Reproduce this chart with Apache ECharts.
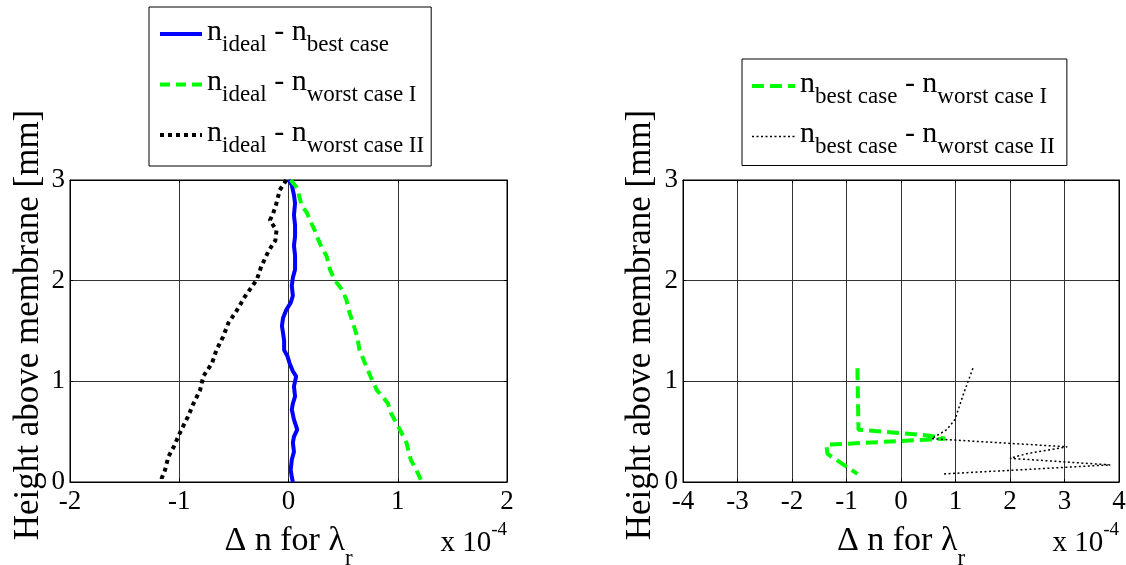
<!DOCTYPE html>
<html>
<head>
<meta charset="utf-8">
<script src="https://cdn.jsdelivr.net/npm/echarts@6/dist/echarts.min.js"></script>
<style>
html,body{margin:0;padding:0;background:#fff;}
#chart{width:1126px;height:565px;}
</style>
</head>
<body>
<div id="chart"></div>
<script>
// ---- data (Δn in units of 1e-4, height in mm) ----
const leftXTicks = ['-2', '-1', '0', '1', '2'];
const rightXTicks = ['-4', '-3', '-2', '-1', '0', '1', '2', '3', '4'];
const yTicks = ['0', '1', '2', '3'];

const idealBestH = [3.00, 2.95, 2.85, 2.77, 2.65, 2.55, 2.44, 2.35, 2.25, 2.11, 2.03, 1.95, 1.85, 1.78, 1.71, 1.63, 1.55, 1.48, 1.40, 1.31, 1.25, 1.18, 1.10, 1.05, 0.95, 0.85, 0.78, 0.72, 0.62, 0.52, 0.45, 0.39, 0.30, 0.22, 0.12, 0.05, 0.00];
const idealBestD = [0.00, 0.03, 0.05, 0.06, 0.05, 0.06, 0.06, 0.05, 0.06, 0.06, 0.04, 0.03, 0.04, 0.02, -0.02, -0.05, -0.06, -0.05, -0.04, -0.04, -0.01, 0.01, 0.04, 0.07, 0.05, 0.06, 0.04, 0.03, 0.05, 0.08, 0.05, 0.04, 0.05, 0.03, 0.02, 0.03, 0.04];

const idealWorst1H = [3.00, 2.92, 2.83, 2.75, 2.67, 2.57, 2.50, 2.44, 2.34, 2.24, 2.11, 2.01, 1.91, 1.81, 1.71, 1.58, 1.44, 1.31, 1.18, 1.05, 0.91, 0.85, 0.78, 0.68, 0.52, 0.39, 0.30, 0.22, 0.12, 0.00];
const idealWorst1D = [0.02, 0.08, 0.10, 0.12, 0.17, 0.21, 0.24, 0.26, 0.30, 0.35, 0.38, 0.42, 0.49, 0.53, 0.55, 0.59, 0.63, 0.65, 0.70, 0.75, 0.81, 0.86, 0.91, 0.94, 1.02, 1.08, 1.10, 1.12, 1.17, 1.22];

const idealWorst2H = [3.00, 2.90, 2.77, 2.67, 2.60, 2.50, 2.40, 2.30, 2.14, 2.01, 1.84, 1.71, 1.58, 1.44, 1.31, 1.18, 1.05, 0.91, 0.78, 0.65, 0.52, 0.45, 0.35, 0.25, 0.12, 0.04, 0.00];
const idealWorst2D = [-0.02, -0.08, -0.11, -0.14, -0.17, -0.11, -0.12, -0.18, -0.25, -0.29, -0.40, -0.47, -0.55, -0.60, -0.66, -0.70, -0.78, -0.81, -0.87, -0.92, -0.98, -1.01, -1.05, -1.10, -1.13, -1.16, -1.16];

const bestWorst1H = [1.13, 0.52, 0.46, 0.43, 0.37, 0.28, 0.08];
const bestWorst1D = [-0.80, -0.78, 0.53, 0.81, -1.37, -1.35, -0.80];

const bestWorst2H = [1.13, 0.88, 0.62, 0.52, 0.43, 0.35, 0.28, 0.235, 0.17, 0.08];
const bestWorst2D = [1.32, 1.15, 0.99, 0.84, 0.56, 3.05, 2.30, 2.00, 3.84, 0.78];

const legendLabels = {
  'ib': '{n|n}{s|ideal}{n| - n}{s|best case}',
  'iw1': '{n|n}{s|ideal}{n| - n}{s|worst case I}',
  'iw2': '{n|n}{s|ideal}{n| - n}{s|worst case II}',
  'bw1': '{n|n}{s|best case}{n| - n}{s|worst case I}',
  'bw2': '{n|n}{s|best case}{n| - n}{s|worst case II}'
};

function pairs(xs, ys) { return xs.map((x, i) => [x, ys[i]]); }

const FONT = 'Liberation Serif';
const legendRich = {
  n: { fontFamily: FONT, fontSize: 30, color: '#000', verticalAlign: 'top', padding: [5, 0, 0, 0] },
  s: { fontFamily: FONT, fontSize: 23, color: '#000', verticalAlign: 'top', padding: [21, 0, 0, 0] }
};

function xAxisMain(gridIndex, min, max) {
  return {
    type: 'value', gridIndex, min, max, interval: 1, position: 'bottom',
    axisLine: { show: true, onZero: false, lineStyle: { color: '#000', width: 1 } },
    axisTick: { show: true, inside: true, length: 3, lineStyle: { color: '#000' } },
    axisLabel: { fontFamily: FONT, fontSize: 27, color: '#000', margin: 6 },
    splitLine: { show: true, lineStyle: { color: '#333', width: 1 } },
    name: '{a|Δ n for λ}{s|r}', nameLocation: 'middle', nameGap: 42,
    nameTextStyle: {
      fontFamily: FONT, color: '#000',
      rich: {
        a: { fontFamily: FONT, fontSize: 34, color: '#000', verticalAlign: 'top' },
        s: { fontFamily: FONT, fontSize: 23, color: '#000', verticalAlign: 'top', padding: [23, 0, 0, 0] }
      }
    }
  };
}
function xAxisTop(gridIndex, min, max) {
  return {
    type: 'value', gridIndex, min, max, interval: 1, position: 'top',
    axisLine: { show: true, onZero: false, lineStyle: { color: '#000', width: 1 } },
    axisTick: { show: true, inside: true, length: 3, lineStyle: { color: '#000' } },
    axisLabel: { show: false }, splitLine: { show: false }
  };
}
function yAxisMain(gridIndex, gap) {
  return {
    type: 'value', gridIndex, min: 0, max: 3, interval: 1, position: 'left',
    axisLine: { show: true, onZero: false, lineStyle: { color: '#000', width: 1 } },
    axisTick: { show: true, inside: true, length: 3, lineStyle: { color: '#000' } },
    axisLabel: { fontFamily: FONT, fontSize: 27, color: '#000', margin: 5 },
    splitLine: { show: true, lineStyle: { color: '#333', width: 1 } },
    name: 'Height above membrane [mm]', nameLocation: 'middle', nameGap: gap, nameRotate: 90,
    nameTextStyle: { fontFamily: FONT, fontSize: 35, color: '#000', padding: [0, 0, 0, 12] }
  };
}
function yAxisRight(gridIndex) {
  return {
    type: 'value', gridIndex, min: 0, max: 3, interval: 1, position: 'right',
    axisLine: { show: true, onZero: false, lineStyle: { color: '#000', width: 1 } },
    axisTick: { show: true, inside: true, length: 3, lineStyle: { color: '#000' } },
    axisLabel: { show: false }, splitLine: { show: false }
  };
}

function lineSeries(name, xi, yi, xs, ys, color, width, dash) {
  return {
    name, type: 'line', xAxisIndex: xi, yAxisIndex: yi,
    data: pairs(xs, ys), showSymbol: false, symbol: 'none',
    lineStyle: { color, width, type: dash }, itemStyle: { color },
    z: 5, silent: true, animation: false
  };
}

const supText = (x) => ({
  type: 'text', x, y: 558,
  style: {
    text: '{a|x 10}{b|-4}', align: 'right', verticalAlign: 'bottom',
    rich: {
      a: { fontFamily: FONT, fontSize: 29, fill: '#000', verticalAlign: 'bottom', padding: [8, 0, 0, 0] },
      b: { fontFamily: FONT, fontSize: 19, fill: '#000', verticalAlign: 'top' }
    }
  }
});

const gridBase = { show: true, borderColor: '#000', borderWidth: 1, backgroundColor: '#fff', containLabel: false, outerBoundsMode: 'none' };

const chart = echarts.init(document.getElementById('chart'), null, { renderer: 'canvas' });
chart.setOption({
  backgroundColor: '#fff',
  animation: false,
  grid: [
    Object.assign({ left: 70, top: 180, width: 437, height: 302 }, gridBase),
    Object.assign({ left: 683, top: 180, width: 436, height: 302 }, gridBase)
  ],
  xAxis: [xAxisMain(0, -2, 2), xAxisMain(1, -4, 4), xAxisTop(0, -2, 2), xAxisTop(1, -4, 4)],
  yAxis: [yAxisMain(0, 24), yAxisMain(1, 25), yAxisRight(0), yAxisRight(1)],
  legend: [
    {
      data: [
        { name: 'ib', lineStyle: { width: 4 } },
        { name: 'iw1', lineStyle: { width: 4 } },
        { name: 'iw2', lineStyle: { width: 4 } }
      ],
      orient: 'vertical', left: 149, top: 7,
      padding: [10, 7, 9, 9], itemGap: 11.5, itemWidth: 42, itemHeight: 14,
      backgroundColor: '#fff', borderColor: '#000', borderWidth: 1,
      itemStyle: { opacity: 0 },
      formatter: n => legendLabels[n], textStyle: { rich: legendRich }, selectedMode: false
    },
    {
      data: [
        { name: 'bw1', lineStyle: { width: 4 } },
        { name: 'bw2', lineStyle: { width: 1.5 } }
      ],
      orient: 'vertical', left: 742, top: 59,
      padding: [10, 12, 7, 8], itemGap: 11.5, itemWidth: 43, itemHeight: 14,
      backgroundColor: '#fff', borderColor: '#000', borderWidth: 1,
      itemStyle: { opacity: 0 },
      formatter: n => legendLabels[n], textStyle: { rich: legendRich }, selectedMode: false
    }
  ],
  graphic: [supText(507), supText(1119)],
  series: [
    lineSeries('ib', 0, 0, idealBestD, idealBestH, '#0000ff', 4, 'solid'),
    lineSeries('iw1', 0, 0, idealWorst1D, idealWorst1H, '#00ff00', 4, [10, 6]),
    lineSeries('iw2', 0, 0, idealWorst2D, idealWorst2H, '#000000', 4, [4, 4]),
    lineSeries('bw1', 1, 1, bestWorst1D, bestWorst1H, '#00ff00', 4, [12, 6]),
    lineSeries('bw2', 1, 1, bestWorst2D, bestWorst2H, '#000000', 1.5, [2, 2.5])
  ]
});
</script>
</body>
</html>
